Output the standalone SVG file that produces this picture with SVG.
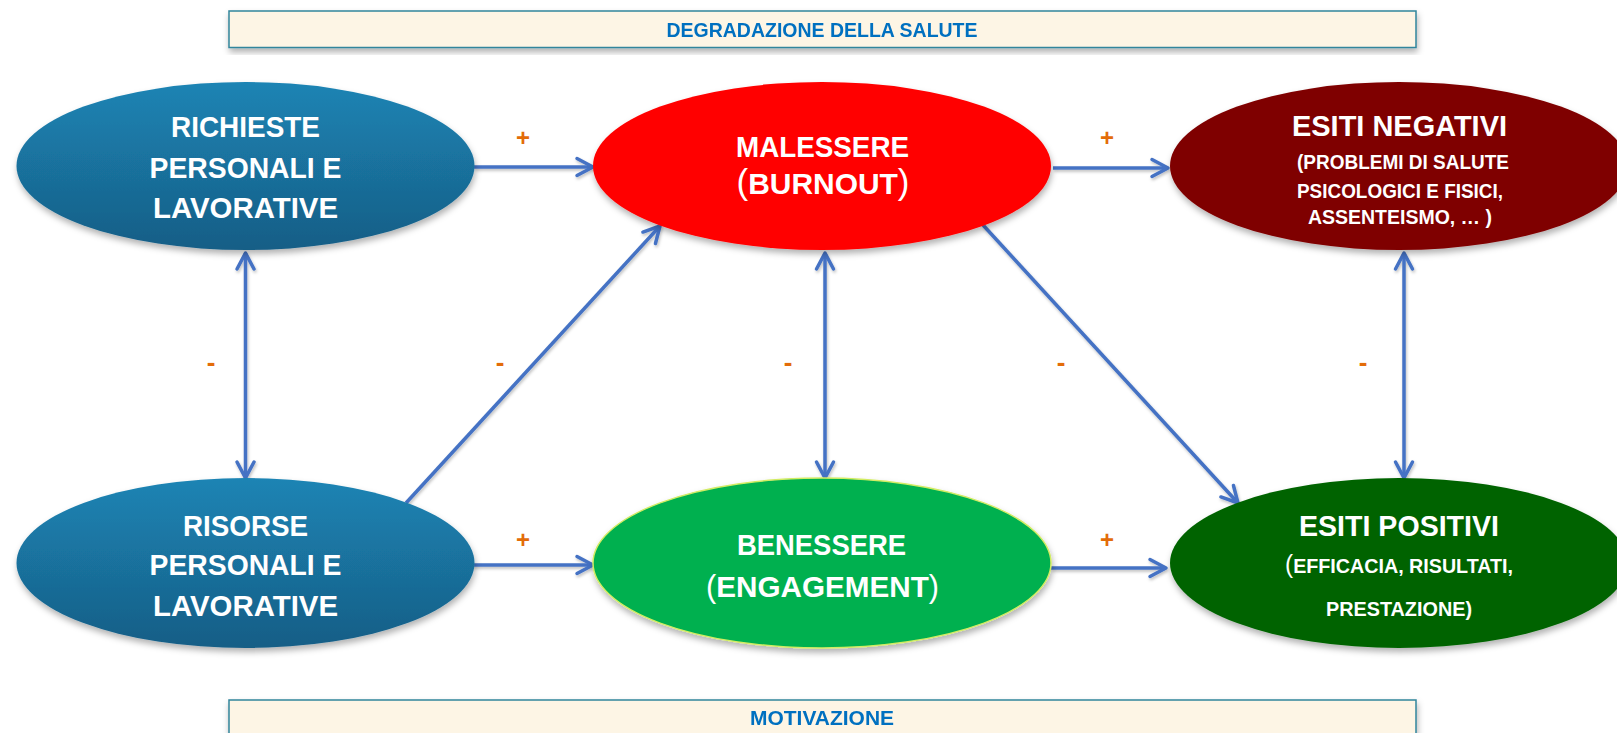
<svg xmlns="http://www.w3.org/2000/svg" width="1617" height="733" viewBox="0 0 1617 733">
<defs>
<linearGradient id="blueG" x1="0" y1="0" x2="0" y2="1">
<stop offset="0" stop-color="#1c84b4"/>
<stop offset="1" stop-color="#175e86"/>
</linearGradient>
<filter id="sh" x="-10%" y="-10%" width="120%" height="130%">
<feDropShadow dx="1" dy="4" stdDeviation="3" flood-color="#000" flood-opacity="0.3"/>
</filter>
<filter id="lsh" x="-10%" y="-10%" width="120%" height="120%">
<feDropShadow dx="1" dy="2" stdDeviation="1.5" flood-color="#000" flood-opacity="0.25"/>
</filter>
<marker id="ah" markerUnits="userSpaceOnUse" viewBox="-20 -12 24 24" markerWidth="24" markerHeight="24" refX="0" refY="0" orient="auto-start-reverse">
<path d="M -16 -8.5 L 0 0 L -16 8.5" fill="none" stroke="#4472c4" stroke-width="3.5" stroke-linecap="round" stroke-linejoin="round"/>
</marker>
<style>
.banner{fill:#fdf5e5;stroke:#31859c;stroke-width:1.5}
.btxt{font-family:"Liberation Sans",Arial,sans-serif;font-weight:bold;fill:#0070c0;text-anchor:middle}
.t{font-family:"Liberation Sans",Arial,sans-serif;font-weight:bold;fill:#ffffff;text-anchor:middle}
.big{font-size:30px}
.sm{font-size:21px}
.conn{stroke:#4472c4;stroke-width:3.5;fill:none;marker-end:url(#ah)}
.dbl{marker-start:url(#ah)}
.lbl{font-family:"Liberation Sans",Arial,sans-serif;font-weight:bold;fill:#e36c09;text-anchor:middle}
</style>
</defs>
<rect width="1617" height="733" fill="#ffffff"/>

<g id="banner-top" filter="url(#sh)">
<rect class="banner" x="229" y="11" width="1187" height="36.5"/>
<text class="btxt" x="822" y="37" font-size="20" textLength="311" lengthAdjust="spacingAndGlyphs">DEGRADAZIONE DELLA SALUTE</text>
</g>
<g id="banner-bottom" filter="url(#sh)">
<rect class="banner" x="229" y="700" width="1187" height="50"/>
<text class="btxt" x="822" y="725" font-size="20.5" textLength="144" lengthAdjust="spacingAndGlyphs">MOTIVAZIONE</text>
</g>

<g id="connectors" filter="url(#lsh)">
<line class="conn" x1="474" y1="167" x2="593" y2="167"/>
<line class="conn" x1="1053" y1="168" x2="1168" y2="168"/>
<line class="conn" x1="472" y1="565" x2="593" y2="565"/>
<line class="conn" x1="1051" y1="568" x2="1166" y2="568"/>
<line class="conn dbl" x1="245.5" y1="253" x2="245.5" y2="478"/>
<line class="conn dbl" x1="825" y1="253" x2="825" y2="478"/>
<line class="conn dbl" x1="1404" y1="253" x2="1404" y2="478"/>
<line class="conn" x1="406" y1="503" x2="660" y2="226"/>
<line class="conn" x1="983" y1="225" x2="1238" y2="503"/>
</g>

<g id="labels">
<text class="lbl" x="523" y="146" font-size="24">+</text>
<text class="lbl" x="1107" y="146" font-size="24">+</text>
<text class="lbl" x="523" y="548" font-size="24">+</text>
<text class="lbl" x="1107" y="548" font-size="24">+</text>
<text class="lbl" x="211" y="371" font-size="26">-</text>
<text class="lbl" x="500" y="371" font-size="26">-</text>
<text class="lbl" x="788" y="371" font-size="26">-</text>
<text class="lbl" x="1061" y="371" font-size="26">-</text>
<text class="lbl" x="1363" y="371" font-size="26">-</text>
</g>

<g id="richieste">
<ellipse cx="245.5" cy="166" rx="229" ry="84" fill="url(#blueG)" filter="url(#sh)"/>
<text class="t big" x="245.5" y="137" textLength="149" lengthAdjust="spacingAndGlyphs">RICHIESTE</text>
<text class="t big" x="245.5" y="178" textLength="192" lengthAdjust="spacingAndGlyphs">PERSONALI E</text>
<text class="t big" x="245.5" y="218" textLength="185" lengthAdjust="spacingAndGlyphs">LAVORATIVE</text>
</g>

<g id="risorse">
<ellipse cx="245.5" cy="563" rx="229" ry="85" fill="url(#blueG)" filter="url(#sh)"/>
<text class="t big" x="245.5" y="536" textLength="125" lengthAdjust="spacingAndGlyphs">RISORSE</text>
<text class="t big" x="245.5" y="575" textLength="192" lengthAdjust="spacingAndGlyphs">PERSONALI E</text>
<text class="t big" x="245.5" y="616" textLength="185" lengthAdjust="spacingAndGlyphs">LAVORATIVE</text>
</g>

<g id="malessere">
<ellipse cx="822" cy="166" rx="229" ry="84" fill="#ff0000" filter="url(#sh)"/>
<text class="t big" x="822.5" y="157" textLength="173" lengthAdjust="spacingAndGlyphs">MALESSERE</text>
<text class="t" x="823" y="194" font-size="30" textLength="173" lengthAdjust="spacingAndGlyphs"><tspan font-size="35" font-weight="normal">(</tspan>BURNOUT<tspan font-size="35" font-weight="normal">)</tspan></text>
</g>

<g id="benessere">
<ellipse cx="822" cy="563" rx="229" ry="85" fill="#00b050" stroke="#d2ec64" stroke-width="1.5" filter="url(#sh)"/>
<text class="t big" x="821.5" y="555" textLength="169" lengthAdjust="spacingAndGlyphs">BENESSERE</text>
<text class="t" x="822.5" y="597" font-size="30" textLength="233" lengthAdjust="spacingAndGlyphs"><tspan font-size="31" font-weight="normal">(</tspan>ENGAGEMENT<tspan font-size="31" font-weight="normal">)</tspan></text>
</g>

<g id="esiti-negativi">
<ellipse cx="1399" cy="166" rx="229" ry="84" fill="#7f0000" filter="url(#sh)"/>
<text class="t big" x="1399.5" y="136" textLength="215" lengthAdjust="spacingAndGlyphs">ESITI NEGATIVI</text>
<text class="t sm" x="1403" y="169" textLength="212" lengthAdjust="spacingAndGlyphs">(PROBLEMI DI SALUTE</text>
<text class="t sm" x="1400" y="198" textLength="206" lengthAdjust="spacingAndGlyphs">PSICOLOGICI E FISICI,</text>
<text class="t sm" x="1400" y="224" textLength="184" lengthAdjust="spacingAndGlyphs">ASSENTEISMO, … )</text>
</g>

<g id="esiti-positivi">
<ellipse cx="1399" cy="563" rx="229" ry="85" fill="#006400" filter="url(#sh)"/>
<text class="t big" x="1399" y="536" textLength="200" lengthAdjust="spacingAndGlyphs">ESITI POSITIVI</text>
<text class="t sm" x="1399" y="573" textLength="228" lengthAdjust="spacingAndGlyphs"><tspan font-size="26" font-weight="normal">(</tspan>EFFICACIA, RISULTATI,</text>
<text class="t sm" x="1399" y="616" textLength="146" lengthAdjust="spacingAndGlyphs">PRESTAZIONE)</text>
</g>
</svg>
